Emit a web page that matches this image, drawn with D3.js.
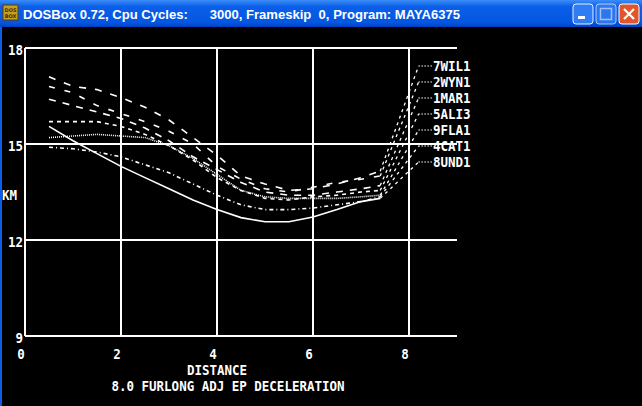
<!DOCTYPE html>
<html>
<head>
<meta charset="utf-8">
<script src="https://cdn.jsdelivr.net/npm/d3@7"></script>
<style>
  html, body { margin: 0; padding: 0; background: #000; overflow: hidden; }
  svg { display: block; }
</style>
</head>
<body>
<svg id="screen"></svg>
<script>
// values
const horses = ['7WIL1', '2WYN1', '1MAR1', '5ALI3', '9FLA1', '4CAT1', '8UND1'];
const distance = [0.5, 1, 1.5, 2, 2.5, 3, 3.5, 4, 4.5, 5, 5.5, 6, 6.5, 7, 7.4];
const wil = [17.1, 16.8, 16.7, 16.45, 16.15, 15.75, 15.2, 14.65, 14.0, 13.75, 13.55, 13.6, 13.75, 13.95, 14.15];
const wyn = [16.8, 16.6, 16.2, 15.95, 15.7, 15.4, 15.0, 14.3, 13.9, 13.6, 13.5, 13.65, 13.8, 13.9, 14.0];
const mar = [16.4, 16.2, 16.0, 15.8, 15.5, 15.1, 14.6, 14.2, 13.8, 13.5, 13.4, 13.4, 13.5, 13.6, 13.7];
const ali = [15.7, 15.7, 15.7, 15.55, 15.3, 14.95, 14.5, 13.95, 13.55, 13.3, 13.25, 13.35, 13.4, 13.5, 13.55];
const fla = [15.2, 15.25, 15.3, 15.25, 15.2, 14.95, 14.55, 14.05, 13.55, 13.35, 13.3, 13.3, 13.3, 13.35, 13.4];
const cat = [14.9, 14.85, 14.75, 14.6, 14.35, 14.1, 13.75, 13.4, 13.1, 12.95, 12.95, 13.0, 13.1, 13.2, 13.35];
const und = [15.55, 15.1, 14.7, 14.3, 13.95, 13.6, 13.25, 12.95, 12.7, 12.57, 12.57, 12.72, 12.95, 13.2, 13.3];
const xTicks = [0, 2, 4, 6, 8];
const yTicks = [9, 12, 15, 18];
const title = 'DOSBox 0.72, Cpu Cycles:      3000, Frameskip  0, Program: MAYA6375';

const series = [wil, wyn, mar, ali, fla, cat, und];
const dashes = ['7,9', '6,10', '7,7', '4,4', '1,1', '4,3,1,3', null];

const W = 642, H = 406;
const svg = d3.select('#screen').attr('width', W).attr('height', H);

// ---- window chrome (XP title bar) ----
const defs = svg.append('defs');
const grad = defs.append('linearGradient').attr('id', 'bar').attr('x1', 0).attr('y1', 0).attr('x2', 0).attr('y2', 1);
grad.append('stop').attr('offset', 0).attr('stop-color', '#3c8cf8');
grad.append('stop').attr('offset', 0.25).attr('stop-color', '#0a5ee8');
grad.append('stop').attr('offset', 0.85).attr('stop-color', '#0256e0');
grad.append('stop').attr('offset', 1).attr('stop-color', '#0040c0');

svg.append('rect').attr('width', W).attr('height', H).attr('fill', '#000');
svg.append('rect').attr('width', W).attr('height', 27).attr('fill', 'url(#bar)');
svg.append('rect').attr('x', 0).attr('y', 27).attr('width', 2).attr('height', H - 27).attr('fill', '#0a5ee8');

// dosbox icon
svg.append('rect').attr('x', 3).attr('y', 5).attr('width', 15).attr('height', 15).attr('fill', '#c8a020').attr('stroke', '#5a3c00');
svg.append('text').attr('x', 10.5).attr('y', 11.5).attr('text-anchor', 'middle')
  .style('font', 'bold 5px "DejaVu Sans"').attr('fill', '#4a2a00').text('DOS');
svg.append('text').attr('x', 10.5).attr('y', 18).attr('text-anchor', 'middle')
  .style('font', 'bold 5px "DejaVu Sans"').attr('fill', '#4a2a00').text('BOX');

svg.append('text').attr('x', 23).attr('y', 18.5)
  .attr('textLength', 437).attr('lengthAdjust', 'spacingAndGlyphs')
  .attr('xml:space', 'preserve').style('white-space', 'pre')
  .style('font', 'bold 12px "Liberation Sans"').attr('fill', '#fff')
  .text(title);

// buttons
const btn = svg.append('g');
[573, 596].forEach((bx, i) => {
  btn.append('rect').attr('x', bx).attr('y', 4).attr('width', 20).attr('height', 20).attr('rx', 3)
    .attr('fill', i === 0 ? '#2f7cf5' : '#3a80f0').attr('stroke', '#e8f0ff').attr('stroke-width', 1)
    .attr('opacity', i === 0 ? 1 : 0.75);
});
btn.append('rect').attr('x', 578).attr('y', 16).attr('width', 7).attr('height', 3).attr('fill', '#fff');
btn.append('rect').attr('x', 600.5).attr('y', 8.5).attr('width', 11).attr('height', 11)
  .attr('fill', 'none').attr('stroke', '#9fc0f8').attr('stroke-width', 1.5);
btn.append('rect').attr('x', 619).attr('y', 4).attr('width', 20).attr('height', 20).attr('rx', 3)
  .attr('fill', '#e0562c').attr('stroke', '#fff').attr('stroke-width', 1);
btn.append('path').attr('d', 'M624,9 L634,19 M634,9 L624,19').attr('stroke', '#fff').attr('stroke-width', 2.2);

// ---- chart ----
const x = d3.scaleLinear().domain([0, 9]).range([25, 457]);
const y = d3.scaleLinear().domain([9, 18]).range([336, 48]);

function dosText(str, px, py, anchor) {
  svg.append('text')
    .attr('transform', `translate(${px},${py}) scale(1,1.18)`)
    .attr('text-anchor', anchor || 'start')
    .attr('dominant-baseline', 'central')
    .attr('fill', '#fff')
    .attr('xml:space', 'preserve')
    .style('font', 'bold 12.5px "DejaVu Sans Mono"')
    .text(str);
}

const grid = svg.append('g').attr('stroke', '#fff').attr('stroke-width', 1.5).attr('shape-rendering', 'crispEdges');
grid.selectAll('.h').data(yTicks).enter().append('line')
  .attr('x1', x(0)).attr('x2', x(9)).attr('y1', d => y(d)).attr('y2', d => y(d));
grid.selectAll('.v').data(xTicks).enter().append('line')
  .attr('x1', d => x(d)).attr('x2', d => x(d)).attr('y1', y(18)).attr('y2', y(9));

yTicks.forEach(v => dosText(String(v), 23, y(v) + 2, 'end'));
xTicks.forEach(v => dosText(String(v), x(v) - 4, 354, 'middle'));
dosText('KM', 2, 195, 'start');
dosText('DISTANCE', 217, 370, 'middle');
dosText('8.0 FURLONG ADJ EP DECELERATION', 228, 386, 'middle');

const line = d3.line().x(d => x(d[0])).y(d => y(d[1]));
const legendX = x(8.2);
const labelY = i => 66 + 16 * i;

series.forEach((vals, i) => {
  const pts = distance.map((d, j) => [d, vals[j]]);
  svg.append('path').attr('d', line(pts))
    .attr('fill', 'none').attr('stroke', '#fff').attr('stroke-width', 1.6)
    .attr('stroke-dasharray', dashes[i]);
  const last = pts[pts.length - 1];
  // lead from end of curve up to the label
  svg.append('path')
    .attr('d', `M${x(last[0])},${y(last[1])} L${legendX},${labelY(i)}`)
    .attr('fill', 'none').attr('stroke', '#fff').attr('stroke-width', 1.3)
    .attr('stroke-dasharray', '3,4');
  svg.append('line').attr('x1', legendX).attr('x2', 432).attr('y1', labelY(i)).attr('y2', labelY(i))
    .attr('stroke', '#fff').attr('stroke-width', 1.3).attr('stroke-dasharray', '1,2');
  dosText(horses[i], 433, labelY(i), 'start');
});
</script>
</body>
</html>
